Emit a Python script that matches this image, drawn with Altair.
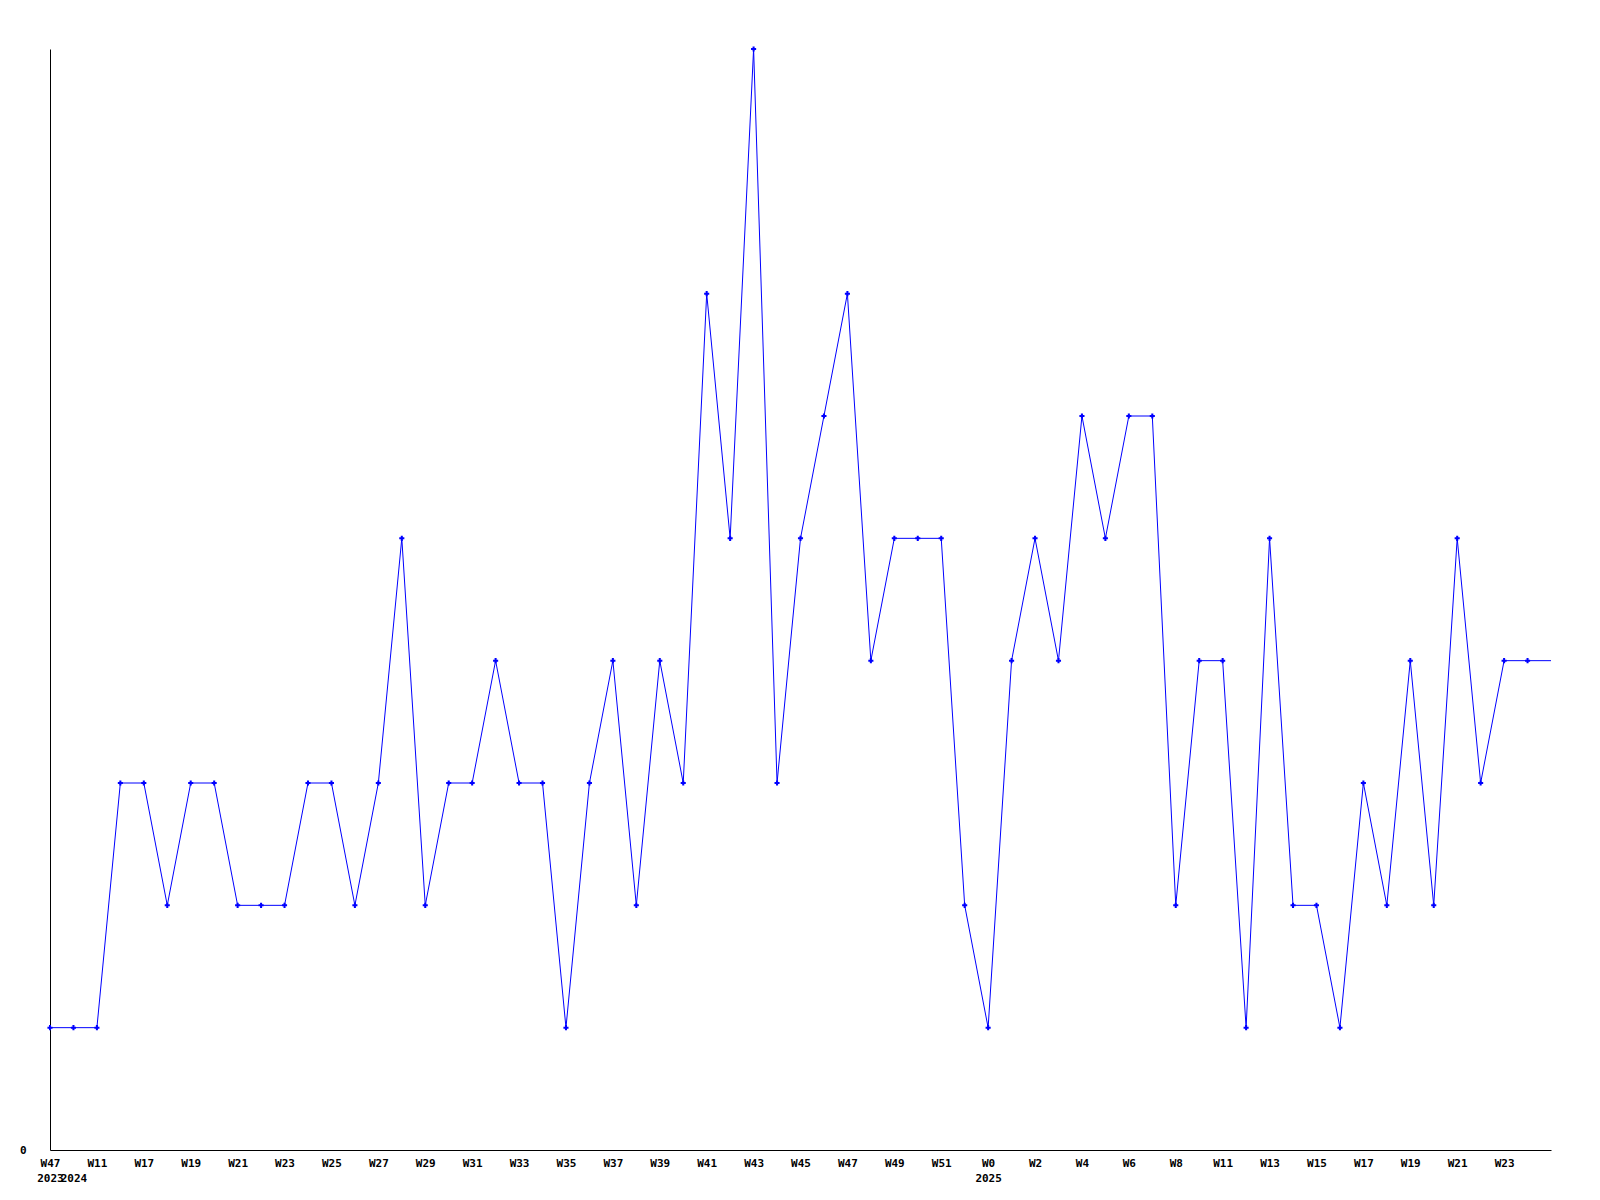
import json
import altair as alt
import pandas as pd

counts = [1, 1, 1, 3, 3, 2, 3, 3, 2, 2, 2, 3, 3, 2, 3, 5, 2, 3, 3, 4,
          3, 3, 1, 3, 4, 2, 4, 3, 7, 5, 9, 3, 5, 6, 7, 4, 5, 5, 5, 2,
          1, 4, 5, 4, 6, 5, 6, 6, 2, 4, 4, 1, 5, 2, 2, 1, 3, 2, 4, 2,
          5, 3, 4, 4, 4]

week_labels = ["W47", "", "W11", "", "W17", "", "W19", "", "W21", "", "W23", "", "W25", "",
               "W27", "", "W29", "", "W31", "", "W33", "", "W35", "", "W37", "", "W39", "",
               "W41", "", "W43", "", "W45", "", "W47", "", "W49", "", "W51", "", "W0", "",
               "W2", "", "W4", "", "W6", "", "W8", "", "W11", "", "W13", "", "W15", "",
               "W17", "", "W19", "", "W21", "", "W23", "", ""]

year_labels = ["2023", "2024"] + [""] * 38 + ["2025"] + [""] * 24

n = len(counts)
df = pd.DataFrame({"idx": list(range(n)), "count": counts})

tick_values = [i for i in range(n) if week_labels[i] or year_labels[i]]
label_expr = "[{w}[datum.value], {y}[datum.value]]".format(
    w=json.dumps(week_labels), y=json.dumps(year_labels))

FONT = "DejaVu Sans Mono"

x = alt.X("idx:Q", scale=alt.Scale(domain=[0, n - 1], nice=False, zero=False),
          axis=alt.Axis(values=tick_values, labelExpr=label_expr, title=None,
                        ticks=False, grid=False, domainColor="black", domainWidth=1,
                        labelFont=FONT, labelFontWeight="bold", labelFontSize=11,
                        labelColor="black", labelPadding=7, labelOverlap=False,
                        labelLineHeight=15, labelFlush=False, labelBaseline="top"))
y = alt.Y("count:Q", scale=alt.Scale(domain=[0, 9], nice=False),
          axis=alt.Axis(values=[0], title=None, ticks=False, grid=False,
                        domainColor="black", domainWidth=1, labelFont=FONT,
                        labelFontWeight="bold", labelFontSize=11, labelColor="black",
                        labelPadding=24))

line = alt.Chart(df).mark_line(color="#0000ff", strokeWidth=1).encode(x=x, y=y)
pts = alt.Chart(df).transform_filter(alt.datum.idx < n - 1).mark_point(
    shape="cross", size=26, filled=True, color="#0000ff", opacity=1).encode(x=x, y=y)

chart = (line + pts).properties(
    width=1501, height=1101,
    background="white",
    autosize=alt.AutoSizeParams(type="none"),
    padding={"left": 42, "top": 41, "right": 30, "bottom": 40},
).configure_view(stroke=None, strokeWidth=0)

chart.save("out.html", embed_options={"renderer": "svg", "actions": False})
